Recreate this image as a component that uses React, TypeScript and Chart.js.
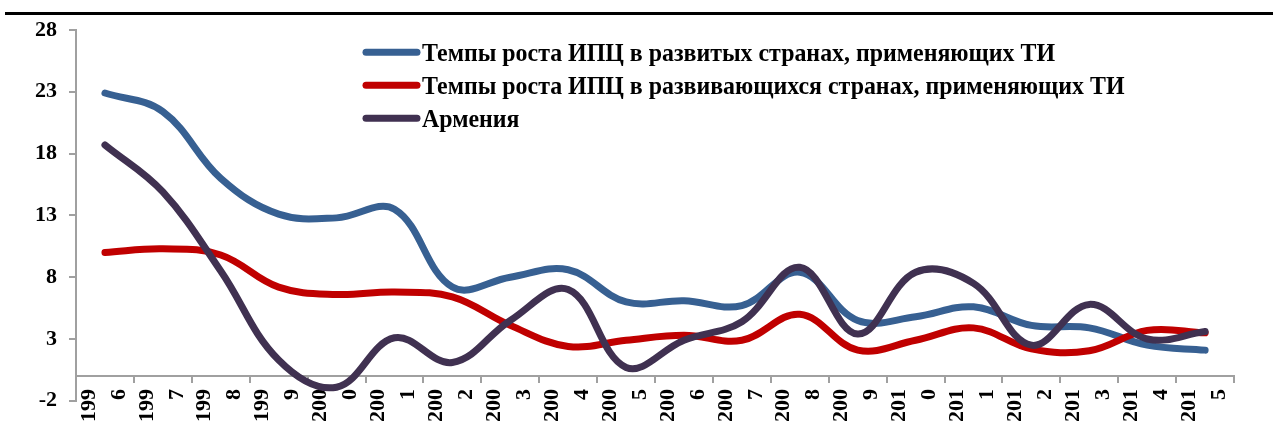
import React, { useEffect, useRef } from "react";
import { Chart, registerables } from "chart.js";

Chart.register(...registerables);

const years = [
  "1996", "1997", "1998", "1999", "2000", "2001", "2002", "2003", "2004", "2005",
  "2006", "2007", "2008", "2009", "2010", "2011", "2012", "2013", "2014", "2015",
];

const xTickLabels = [
  ["199", "6"], ["199", "7"], ["199", "8"], ["199", "9"], ["200", "0"],
  ["200", "1"], ["200", "2"], ["200", "3"], ["200", "4"], ["200", "5"],
  ["200", "6"], ["200", "7"], ["200", "8"], ["200", "9"], ["201", "0"],
  ["201", "1"], ["201", "2"], ["201", "3"], ["201", "4"], ["201", "5"],
];

const developed = [22.9, 21.4, 16.0, 13.1, 12.8, 13.5, 7.2, 8.0, 8.6, 6.0, 6.1, 5.7, 8.4, 4.5, 4.8, 5.6, 4.1, 3.9, 2.5, 2.1];
const developing = [10.0, 10.3, 9.8, 7.2, 6.6, 6.8, 6.4, 4.1, 2.4, 2.9, 3.3, 2.9, 5.0, 2.1, 2.9, 3.9, 2.2, 2.05, 3.7, 3.5];
const armenia = [18.7, 14.9, 8.5, 1.3, -0.9, 3.1, 1.1, 4.5, 7.0, 0.7, 2.9, 4.4, 8.8, 3.4, 8.4, 7.5, 2.5, 5.8, 3.0, 3.6];

const seriesNames = [
  "Темпы роста ИПЦ в развитых странах, применяющих ТИ",
  "Темпы роста ИПЦ в развивающихся странах, применяющих ТИ",
  "Армения",
];
const seriesColors = ["#376092", "#C00000", "#403151"];

const yMin = -2;
const yMax = 28;
const yStep = 5;

const FONT_FAMILY = "'Liberation Serif', 'Times New Roman', serif";
const AXIS_COLOR = "#a0a0a0";

const legendPlugin = {
  id: "customLegend",
  afterDraw(chart: any) {
    const ctx = chart.ctx as CanvasRenderingContext2D;
    ctx.save();
    ctx.font = `bold 25px ${FONT_FAMILY}`;
    const w = ctx.measureText(seriesNames[0]).width;
    const sx = 633 / w;
    seriesNames.forEach((name, i) => {
      const yMid = 52.3 + i * 33;
      ctx.strokeStyle = seriesColors[i];
      ctx.lineWidth = 7;
      ctx.lineCap = "round";
      ctx.beginPath();
      ctx.moveTo(366, yMid);
      ctx.lineTo(417, yMid);
      ctx.stroke();
      ctx.fillStyle = "#000";
      ctx.textBaseline = "alphabetic";
      ctx.textAlign = "left";
      ctx.save();
      ctx.translate(422, yMid + 8.7);
      ctx.scale(sx, 1.05);
      ctx.fillText(name, 0, 0);
      ctx.restore();
    });
    ctx.restore();
  },
};

export default function App() {
  const canvasRef = useRef<HTMLCanvasElement | null>(null);

  useEffect(() => {
    if (!canvasRef.current) return;
    const mk = (data: number[], i: number, order: number) => ({
      label: seriesNames[i],
      data,
      borderColor: seriesColors[i],
      backgroundColor: seriesColors[i],
      borderWidth: 7,
      borderCapStyle: "round" as const,
      borderJoinStyle: "round" as const,
      pointRadius: 0,
      pointHoverRadius: 0,
      tension: 0.38,
      fill: false,
      order,
    });
    const chart = new Chart(canvasRef.current, {
      type: "line",
      data: {
        labels: xTickLabels,
        datasets: [mk(developed, 0, 2), mk(developing, 1, 1), mk(armenia, 2, 0)],
      },
      options: {
        animation: false,
        responsive: true,
        maintainAspectRatio: false,
        layout: { padding: { top: 30, right: 35, bottom: 0, left: 0 } },
        plugins: {
          legend: { display: false },
          tooltip: { enabled: false },
        },
        scales: {
          x: {
            type: "category",
            position: { y: 0 } as any,
            offset: true,
            afterFit: (scale: any) => {
              scale.height = 26;
            },
            grid: {
              display: true,
              offset: true,
              drawOnChartArea: false,
              drawTicks: true,
              tickLength: 6,
              color: AXIS_COLOR,
              lineWidth: 2,
            },
            border: { display: true, color: AXIS_COLOR, width: 2 },
            ticks: {
              autoSkip: false,
              minRotation: 90,
              maxRotation: 90,
              labelOffset: -16,
              padding: 7,
              color: "#000",
              font: { family: FONT_FAMILY, size: 22, weight: "bold", lineHeight: 30 / 22 },
            },
          },
          y: {
            type: "linear",
            min: yMin,
            max: yMax,
            afterFit: (scale: any) => {
              scale.width = 76;
            },
            grid: {
              display: true,
              drawOnChartArea: false,
              drawTicks: true,
              tickLength: 7,
              color: AXIS_COLOR,
              lineWidth: 2,
            },
            border: { display: true, color: AXIS_COLOR, width: 2 },
            ticks: {
              stepSize: yStep,
              padding: 12,
              color: "#000",
              font: { family: FONT_FAMILY, size: 22, weight: "bold" },
            },
          },
        },
      },
      plugins: [legendPlugin],
    });
    return () => chart.destroy();
  }, []);

  return (
    <div style={{ position: "fixed", left: 0, top: 0, width: 1273, height: 426, background: "#fff" }}>
      <div style={{ position: "absolute", left: 5, top: 12, width: 1268, height: 2.5, background: "#000" }} />
      <canvas ref={canvasRef} />
    </div>
  );
}
